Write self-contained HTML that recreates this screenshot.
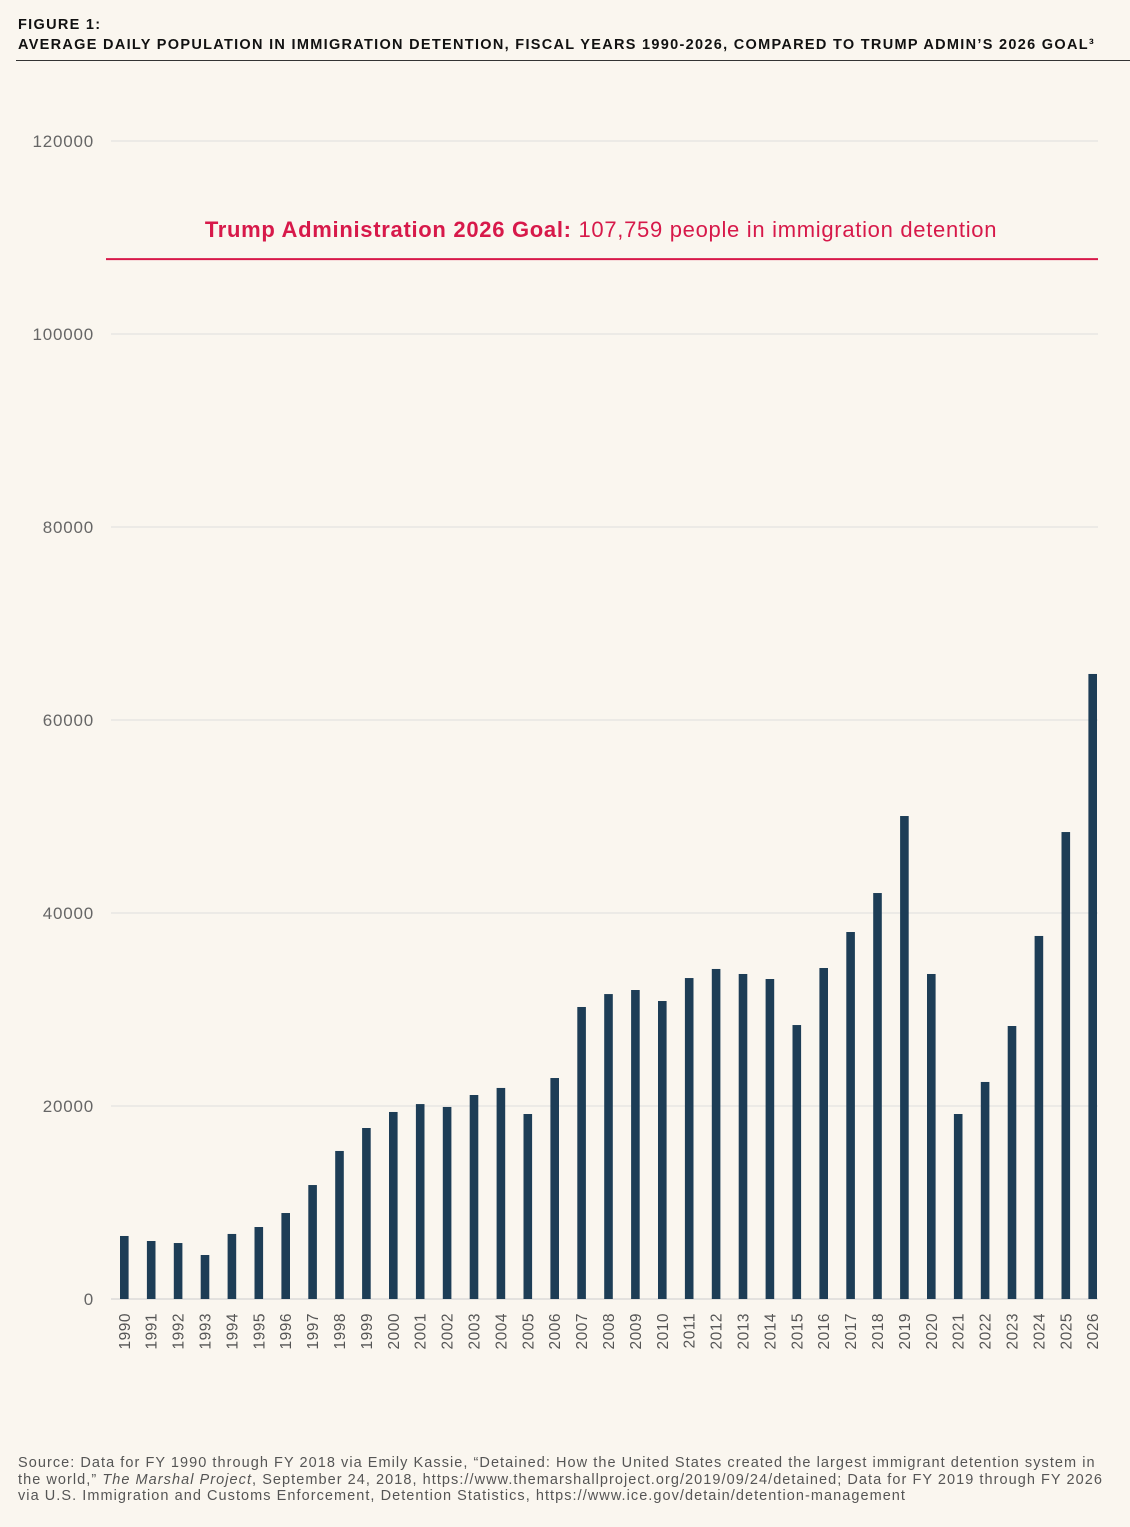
<!DOCTYPE html>
<html><head><meta charset="utf-8"><style>
body{margin:0;background:#faf6ef;width:1130px;height:1527px;overflow:hidden;font-family:"Liberation Sans",sans-serif}
.hdr{position:absolute;left:18px;font-weight:bold;font-size:14.5px;color:#111;letter-spacing:1.3px}
</style></head><body>
<div class="hdr" style="top:17px">FIGURE 1:</div>
<div class="hdr" style="top:37px">AVERAGE DAILY POPULATION IN IMMIGRATION DETENTION, FISCAL YEARS 1990-2026, COMPARED TO TRUMP ADMIN’S 2026 GOAL³</div>
<div style="position:absolute;left:16px;top:60px;width:1114px;height:1px;background:#333"></div>
<svg id="chart" width="1130" height="1527" style="position:absolute;left:0;top:0"></svg>
<div style="position:absolute;left:18px;top:1455px;width:1110px;white-space:nowrap;font-size:14.5px;line-height:16.5px;color:#555;letter-spacing:1.05px">Source: Data for FY 1990 through FY 2018 via Emily Kassie, “Detained: How the United States created the largest immigrant detention system in<br>the world,” <i>The Marshal Project</i>, September 24, 2018, https://www.themarshallproject.org/2019/09/24/detained; Data for FY 2019 through FY 2026<br>via U.S. Immigration and Customs Enforcement, Detention Statistics, https://www.ice.gov/detain/detention-management</div>
<script>
const years=[1990,1991,1992,1993,1994,1995,1996,1997,1998,1999,2000,2001,2002,2003,2004,2005,2006,2007,2008,2009,2010,2011,2012,2013,2014,2015,2016,2017,2018,2019,2020,2021,2022,2023,2024,2025,2026];
const values=[6530,6010,5800,4560,6740,7460,8910,11810,15340,17720,19380,20200,19900,21140,21870,19170,22900,30260,31600,32020,30880,33260,34200,33680,33160,28390,34300,38030,42070,50050,33680,19170,22490,28290,37620,48390,64770];
const yTicks=[0,20000,40000,60000,80000,100000,120000];
const goal=107759;
const NS="http://www.w3.org/2000/svg";
const svg=document.getElementById('chart');
const y=v=>1299-v*(1158/120000);
const x=i=>124.3+i*26.9;
function mk(t,a){const e=document.createElementNS(NS,t);for(const k in a)e.setAttribute(k,a[k]);svg.appendChild(e);return e;}
yTicks.forEach(t=>{
  const l=mk('line',{x1:111,x2:1098,y1:y(t),y2:y(t),stroke:t===0?'#ccc':'#ddd','stroke-width':1});
  
  
  const tx=mk('text',{x:94,y:y(t)+6,'text-anchor':'end','font-size':17,fill:'#666','letter-spacing':'0.8','font-family':'Liberation Sans, sans-serif'});
  tx.textContent=t;
  
  
});
years.forEach((yr,i)=>{
  const r=mk('rect',{x:x(i)-4.3,y:y(values[i]),width:8.6,height:y(0)-y(values[i]),fill:'#1d3d56'});
  
  
  const t=mk('text',{x:0,y:0,'text-anchor':'end','font-size':15.5,fill:'#555','letter-spacing':'0.5','font-family':'Liberation Sans, sans-serif',transform:`translate(${x(i)+5.5},1313) rotate(-90)`});
  t.textContent=yr;
  
  
});
const g=mk('line',{x1:106,x2:1098,y1:y(goal),y2:y(goal),stroke:'#d7194a','stroke-width':2});


const gt=mk('text',{x:601,y:237,'text-anchor':'middle','font-size':22,'letter-spacing':'0.7',fill:'#d7194a','font-family':'Liberation Sans, sans-serif'});
gt.innerHTML='<tspan font-weight="bold">Trump Administration 2026 Goal:</tspan> 107,759 people in immigration detention';


</script>
</body></html>
